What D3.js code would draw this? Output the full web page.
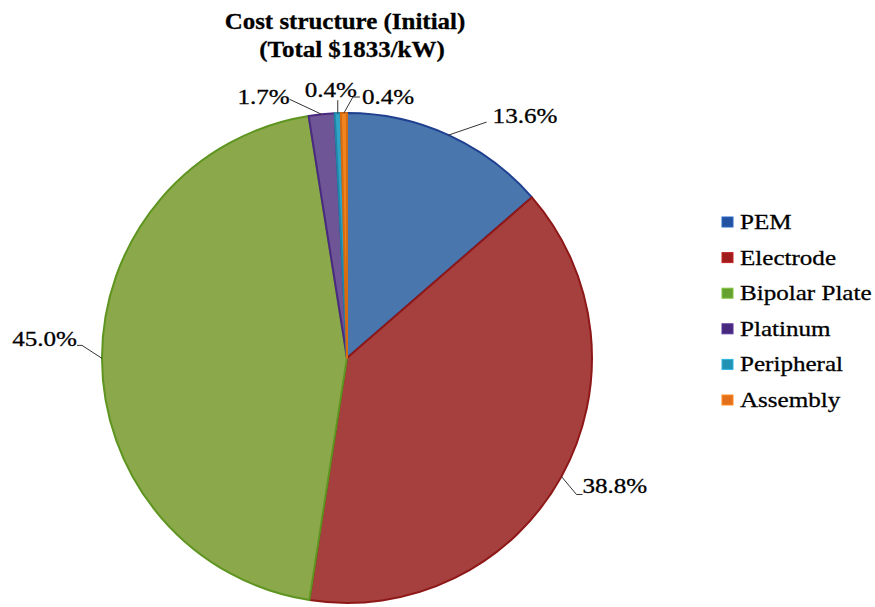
<!DOCTYPE html>
<html><head><meta charset="utf-8">
<script src="https://cdn.jsdelivr.net/npm/d3@7"></script>
<style>body{margin:0;background:#fff} text{font-family:"Liberation Serif",Tinos,"Times New Roman",Times,serif}</style>
</head><body>
<svg id="c" width="875" height="607"></svg>
<script>
const categories = ["PEM","Electrode","Bipolar Plate","Platinum","Peripheral","Assembly"];
const values = [13.6, 38.8, 45.0, 1.7, 0.4, 0.4];
const labels = ["13.6%","38.8%","45.0%","1.7%","0.4%","0.4%"];
const fills = ["#4A76AE","#A5403E","#8BA84A","#6E5596","#30A4C6","#EF8420"];
const strokes = ["#1F3F8F","#8E1818","#5E9420","#4A2A80","#1F86A8","#D86A10"];
const legendFills = ["#2352A0","#A01C1C","#66A030","#46287E","#2292B4","#E2701A"];
const title = ["Cost structure (Initial)","(Total $1833/kW)"];
// label layout: leader end offset from slice edge point, elbow length, text anchor
const labelLayout = [
  {dx:38, dy:-13, elbow:0, anchor:"start", tdx:6, tdy:1},
  {dx:15, dy:18, elbow:6, anchor:"start", tdx:0, tdy:-1},
  {dx:-20, dy:-13, elbow:-5, anchor:"end", tdx:0, tdy:1},
  {dx:-32, dy:-15, elbow:0, anchor:"end", tdx:0, tdy:5},
  {dx:0, dy:-13, elbow:0, anchor:"middle", tdx:-7, tdy:-3},
  {dx:9, dy:-16, elbow:7, anchor:"start", tdx:2, tdy:7}
];

const svg = d3.select("#c");
const cx = 347, cy = 358, R = 245, SX = 1.14;

function addText(g, x, y, str, size, anchor, weight, sx){
  g.append("g").attr("transform",`translate(${x},${y}) scale(${sx||SX},1)`)
   .append("text").attr("font-size",size)
   .attr("font-weight",weight||"normal").attr("text-anchor",anchor)
   .attr("fill","#000").attr("stroke","#000").attr("stroke-width",0.3).text(str);
}

const pie = d3.pie().sort(null).value(d=>d)(values);
const arc = d3.arc().innerRadius(0).outerRadius(R);
const pg = svg.append("g").attr("transform",`translate(${cx},${cy})`);
pg.selectAll("path").data(pie).join("path")
  .attr("d",arc).attr("fill",(d,i)=>fills[i])
  .attr("stroke",(d,i)=>strokes[i]).attr("stroke-width",2)
  .attr("stroke-linejoin","round");

// leaders + labels
const lg = svg.append("g");
pie.forEach((d,i)=>{
  const a = (d.startAngle+d.endAngle)/2;
  const x0 = cx + R*Math.sin(a), y0 = cy - R*Math.cos(a);
  const L = labelLayout[i];
  const x1 = x0+L.dx, y1 = y0+L.dy, x2 = x1+L.elbow;
  lg.append("path").attr("d",`M${x0},${y0}L${x1},${y1}L${x2},${y1}`)
    .attr("fill","none").attr("stroke","#333").attr("stroke-width",1);
  addText(lg, x2+L.tdx, y1+L.tdy, labels[i], 22, L.anchor);
});

// title
addText(svg, 345, 29, title[0], 24, "middle", "bold", 1.04);
addText(svg, 352, 57, title[1], 24, "middle", "bold", 1.04);

// legend
const ly = d3.scalePoint().domain(categories).range([222,400]);
const leg = svg.append("g");
categories.forEach((c,i)=>{
  leg.append("rect").attr("x",722).attr("y",ly(c)-5).attr("width",11).attr("height",10)
    .attr("fill",legendFills[i]).attr("stroke",d3.color(legendFills[i]).brighter(0.6)).attr("stroke-width",1);
  addText(leg, 740, ly(c)+7, c, 22, "start");
});
</script>
</body></html>
